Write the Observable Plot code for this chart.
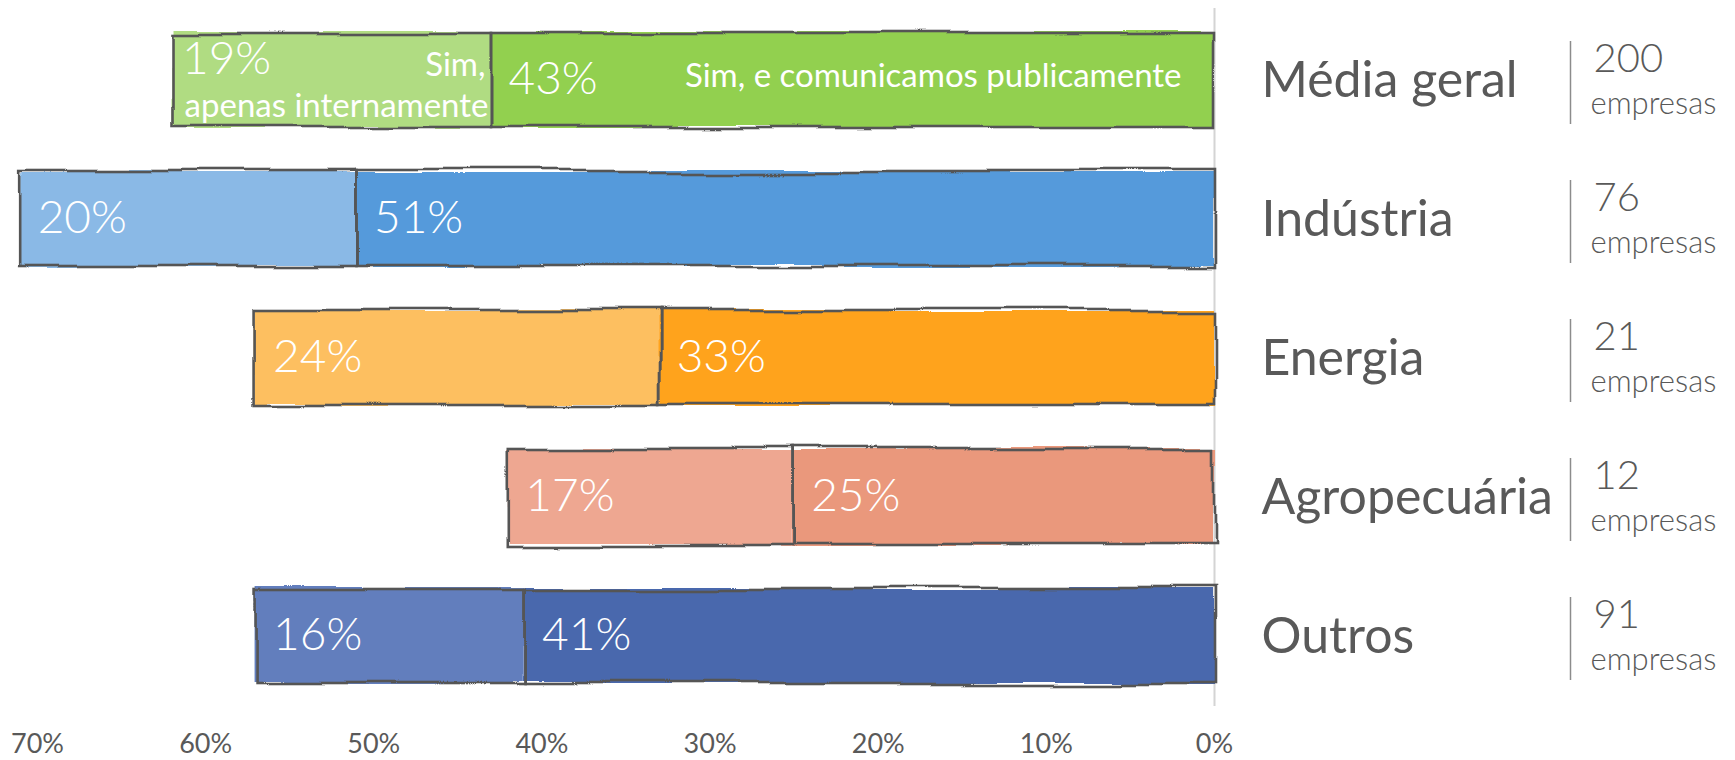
<!DOCTYPE html>
<html><head><meta charset="utf-8">
<script src="https://cdn.jsdelivr.net/npm/d3@7"></script>
<script src="https://cdn.jsdelivr.net/npm/@observablehq/plot@0.6"></script>
<style>
body{margin:0;background:#fff}
#chart svg{font-family:Lato, "Open Sans", sans-serif}
</style>
</head><body><div id="chart"></div>
<script>
const categories = ["Média geral", "Indústria", "Energia", "Agropecuária", "Outros"];
const interno = [19, 20, 24, 17, 16];
const publico = [43, 51, 33, 25, 41];
const empresas = [200, 76, 21, 12, 91];
const series = ["Sim, apenas internamente", "Sim, e comunicamos publicamente"];
const unitLabel = "empresas";
const lightColors = ["#B0DC82", "#8AB9E6", "#FDBF60", "#EEA791", "#627EBD"];
const darkColors = ["#92D050", "#559ADB", "#FFA31D", "#EA987B", "#4A67AD"];
const xTicks = [0, 10, 20, 30, 40, 50, 60, 70];

const rows = categories.map((c, i) => ({cat: c, i, interno: interno[i], publico: publico[i], n: empresas[i]}));
const first = [rows[0]];
const rest = rows.slice(1);
const words = series[0].split(" ");
const serie1a = words[0];
const serie1b = words.slice(1).join(" ");

const inset = {insetTop: 22, insetBottom: 22};
const white = "#ffffff";

const chart = Plot.plot({
  width: 1735,
  height: 760,
  marginLeft: 37,
  marginRight: 521,
  marginTop: 8,
  marginBottom: 54,
  style: {color: "#595959", fontFamily: "Lato, 'Open Sans', sans-serif", background: "#fff"},
  x: {domain: [0, 70], reverse: true},
  y: {domain: categories, padding: 0, axis: null},
  color: {type: "identity"},
  marks: [
    Plot.ruleX([0], {stroke: "#d4d4d4", strokeWidth: 2}),
    // fills (bar groups 0, 1)
    Plot.barX(rows, {x1: () => 0, x2: "publico", y: "cat", fill: d => darkColors[d.i], ...inset}),
    Plot.barX(rows, {x1: "publico", x2: d => d.publico + d.interno, y: "cat", fill: d => lightColors[d.i], ...inset}),
    // sketchy outlines (bar groups 2, 3)
    Plot.barX(rows, {x1: () => 0, x2: "publico", y: "cat", fill: "none", stroke: "#555555", strokeWidth: 2.6, ...inset}),
    Plot.barX(rows, {x1: "publico", x2: d => d.publico + d.interno, y: "cat", fill: "none", stroke: "#555555", strokeWidth: 2.6, ...inset}),
    // value labels
    Plot.text(rows, {x: "publico", y: "cat", text: d => d.publico + "%", textAnchor: "start", dx: 17, dy: -1, fill: white, fontSize: 46, fontWeight: 300}),
    Plot.text(rest, {x: d => d.publico + d.interno, y: "cat", text: d => d.interno + "%", textAnchor: "start", dx: 17, dy: -1, fill: white, fontSize: 46, fontWeight: 300}),
    Plot.text(first, {x: d => d.publico + d.interno, y: "cat", text: d => d.interno + "%", textAnchor: "start", dx: 10, dy: -21, fill: white, fontSize: 46, fontWeight: 300}),
    // series labels
    Plot.text(first, {x: () => 0, y: "cat", text: () => series[1], textAnchor: "end", dx: -33, dy: -4, fill: white, fontSize: 33}),
    Plot.text(first, {x: "publico", y: "cat", text: () => serie1a, textAnchor: "end", dx: -6, dy: -15, fill: white, fontSize: 33}),
    Plot.text(first, {x: "publico", y: "cat", text: () => serie1b, textAnchor: "end", dx: -3, dy: 26, fill: white, fontSize: 33}),
    // right labels
    Plot.text(rows, {x: () => 0, y: "cat", text: "cat", textAnchor: "start", dx: 47, dy: 1, fontSize: 50}),
    Plot.tickX(rows, {x: () => 0, y: "cat", dx: 356, stroke: "#8c8c8c", strokeWidth: 1.5, insetTop: 31, insetBottom: 25}),
    Plot.text(rows, {x: () => 0, y: "cat", text: d => String(d.n), textAnchor: "start", dx: 379, dy: -21, fontSize: 40, fontWeight: 300}),
    Plot.text(rows, {x: () => 0, y: "cat", text: () => unitLabel, textAnchor: "start", dx: 376, dy: 24, fontSize: 31, fontWeight: 300}),
    Plot.axisX({ticks: xTicks, tickFormat: d => d + "%", tickSize: 0, tickPadding: 27, fontSize: 27, label: null})
  ]
});

document.getElementById("chart").appendChild(chart);

// hand-drawn wobble filters
const svg = d3.select(chart);
const defs = svg.insert("defs", ":first-child");
function wobble(id, seed, scale) {
  const f = defs.append("filter").attr("id", id).attr("filterUnits", "userSpaceOnUse")
    .attr("x", 0).attr("y", 0).attr("width", 1735).attr("height", 760);
  f.append("feTurbulence").attr("type", "fractalNoise").attr("baseFrequency", "0.006 0.008")
    .attr("numOctaves", 2).attr("seed", seed).attr("result", "noise");
  f.append("feDisplacementMap").attr("in", "SourceGraphic").attr("in2", "noise")
    .attr("scale", scale).attr("xChannelSelector", "R").attr("yChannelSelector", "G");
}
wobble("sketch", 3, 14);
wobble("sketchFill", 11, 8);
const barGroups = chart.querySelectorAll('g[aria-label="bar"]');
barGroups.forEach((g, k) => g.setAttribute("filter", k < 2 ? "url(#sketchFill)" : "url(#sketch)"));
</script>
</body></html>
